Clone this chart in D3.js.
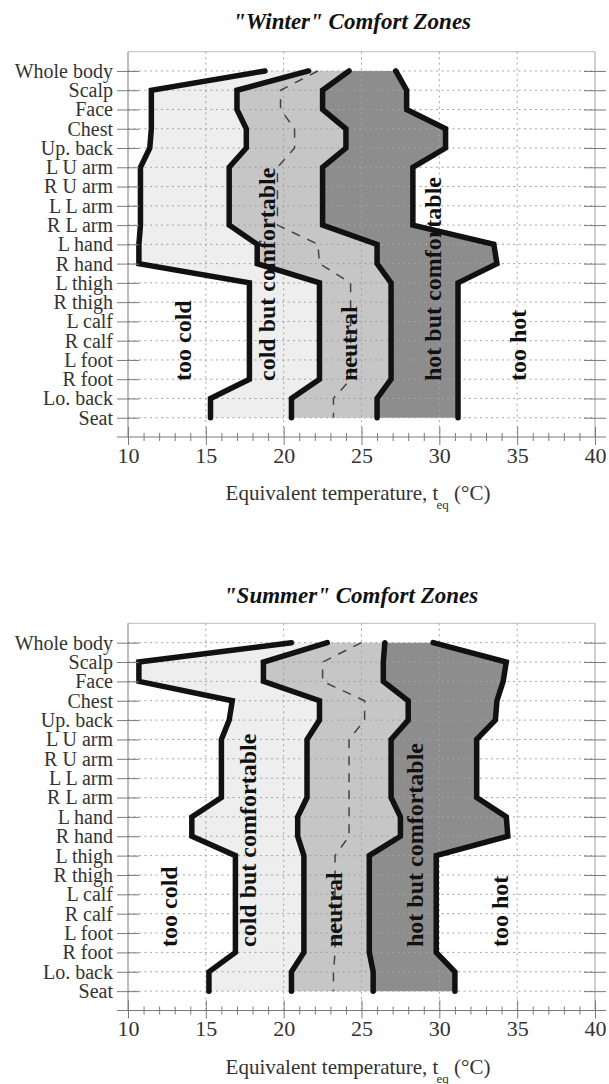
<!DOCTYPE html>
<html>
<head>
<meta charset="utf-8">
<script src="https://cdn.jsdelivr.net/npm/d3@7"></script>
<style>
  html, body { margin: 0; padding: 0; background: #fff; }
  svg { display: block; }
  text { font-family: "Liberation Serif", "Times New Roman", serif; }
</style>
</head>
<body>
<svg id="chart" width="609" height="1084"></svg>
<script>
// Body segments, top to bottom
const bodyParts = ["Whole body", "Scalp", "Face", "Chest", "Up. back", "L U arm", "R U arm",
  "L L arm", "R L arm", "L hand", "R hand", "L thigh", "R thigh", "L calf", "R calf",
  "L foot", "R foot", "Lo. back", "Seat"];

// Equivalent temperature axis (°C)
const tempDomain = [10, 40];
const tempTicks = [10, 15, 20, 25, 30, 35, 40];

const zoneNames = ["too cold", "cold but comfortable", "neutral", "hot but comfortable", "too hot"];

// Winter zone limits per body segment (°C)
const winterColdLimit = [18.8, 11.5, 11.5, 11.5, 11.4, 10.8, 10.8, 10.8, 10.8, 10.7, 10.7, 17.8, 17.8, 17.8, 17.8, 17.8, 17.8, 15.3, 15.3];
const winterCoolLimit = [21.6, 17.0, 17.0, 17.6, 17.6, 16.5, 16.5, 16.5, 16.5, 18.3, 18.3, 22.3, 22.3, 22.3, 22.3, 22.3, 22.3, 20.5, 20.5];
const winterWarmLimit = [24.2, 22.5, 22.5, 24.0, 24.0, 22.5, 22.5, 22.5, 22.5, 26.0, 26.0, 26.9, 26.9, 26.9, 26.9, 26.9, 26.9, 26.0, 26.0];
const winterHotLimit  = [27.2, 27.9, 27.9, 30.4, 30.4, 28.3, 28.3, 28.3, 28.3, 33.5, 33.7, 31.2, 31.2, 31.2, 31.2, 31.2, 31.2, 31.2, 31.2];
const winterNeutral   = [22.2, 19.8, 19.8, 20.7, 20.7, 19.6, 19.6, 19.6, 19.6, 22.2, 22.3, 24.3, 24.3, 24.3, 24.3, 24.3, 24.3, 23.2, 23.2];

// Summer zone limits per body segment (°C)
const summerColdLimit = [20.5, 10.7, 10.7, 16.7, 16.5, 16.0, 16.0, 16.0, 16.0, 14.1, 14.1, 16.9, 16.9, 16.9, 16.9, 16.9, 16.9, 15.2, 15.2];
const summerCoolLimit = [22.8, 18.7, 18.7, 22.3, 22.3, 21.5, 21.5, 21.5, 21.5, 20.9, 20.9, 21.3, 21.3, 21.3, 21.3, 21.3, 21.3, 20.5, 20.5];
const summerWarmLimit = [26.5, 26.4, 26.4, 28.0, 28.0, 26.9, 26.9, 26.9, 26.9, 27.5, 27.5, 25.5, 25.5, 25.5, 25.5, 25.5, 25.5, 25.75, 25.75];
const summerHotLimit  = [29.6, 34.3, 34.1, 33.7, 33.6, 32.4, 32.4, 32.4, 32.4, 34.3, 34.4, 29.8, 29.8, 29.8, 29.8, 29.8, 29.8, 31.0, 31.0];
const summerNeutral   = [25.0, 22.5, 22.5, 25.2, 25.2, 24.2, 24.2, 24.2, 24.2, 24.2, 24.2, 23.3, 23.3, 23.3, 23.3, 23.3, 23.3, 23.2, 23.2];

// Panel layout
const panels = [
  {
    title: "\"Winter\" Comfort Zones", titleX: 352, titleY: 29,
    top: 51.7, bottom: 437, labelBottom: 381,
    labelTemps: [13.5, 18.9, 24.2, 29.6, 35.05],
    limits: [winterColdLimit, winterCoolLimit, winterWarmLimit, winterHotLimit],
    neutral: winterNeutral
  },
  {
    title: "\"Summer\" Comfort Zones", titleX: 351, titleY: 603,
    top: 623.3, bottom: 1010.5, labelBottom: 947,
    labelTemps: [12.6, 17.7, 23.2, 28.4, 33.9],
    limits: [summerColdLimit, summerCoolLimit, summerWarmLimit, summerHotLimit],
    neutral: summerNeutral
  }
];

const left = 128, right = 595;
const zoneFills = ["#eeeeee", "#c6c6c6", "#8d8d8d"];
const axisColor = "#7a7a7a";
const textColor = "#333";

const svg = d3.select("#chart");
const x = d3.scaleLinear().domain(tempDomain).range([left, right]);

panels.forEach(p => {
  const g = svg.append("g");
  const y = d3.scalePoint().domain(bodyParts).range([p.top, p.bottom]).padding(1);

  // frame: top and right borders
  g.append("line").attr("x1", left).attr("x2", right).attr("y1", p.top).attr("y2", p.top)
    .attr("stroke", "#bdbdbd").attr("stroke-width", 1);
  g.append("line").attr("x1", right).attr("x2", right).attr("y1", p.top).attr("y2", p.bottom)
    .attr("stroke", "#a0a0a0").attr("stroke-width", 1);

  // shaded comfort zones between consecutive limits
  for (let k = 0; k < 3; k++) {
    const lo = p.limits[k], hi = p.limits[k + 1];
    const area = d3.area()
      .y((d, i) => y(bodyParts[i]))
      .x0((d, i) => x(lo[i]))
      .x1((d, i) => x(hi[i]));
    g.append("path").datum(bodyParts).attr("d", area).attr("fill", zoneFills[k]);
  }

  // dotted grid
  const grid = g.append("g").attr("stroke", "#a3a3a3").attr("stroke-width", 1)
    .attr("stroke-dasharray", "2,3.5");
  grid.selectAll("line.h").data(bodyParts).join("line").attr("class", "h")
    .attr("x1", left).attr("x2", right)
    .attr("y1", d => y(d)).attr("y2", d => y(d));
  grid.selectAll("line.v").data(tempTicks.slice(1, -1)).join("line").attr("class", "v")
    .attr("x1", d => x(d)).attr("x2", d => x(d))
    .attr("y1", p.top).attr("y2", p.bottom);

  // neutral sensation line
  const line = d3.line().x(d => x(d)).y((d, i) => y(bodyParts[i]));
  g.append("path").datum(p.neutral).attr("d", line)
    .attr("fill", "none").attr("stroke", "#444").attr("stroke-width", 1.5)
    .attr("stroke-dasharray", "9,8");

  // zone limit lines
  p.limits.forEach(lim => {
    g.append("path").datum(lim).attr("d", line)
      .attr("fill", "none").attr("stroke", "#111").attr("stroke-width", 5.5)
      .attr("stroke-linejoin", "miter").attr("stroke-miterlimit", 3)
      .attr("stroke-linecap", "round");
  });

  // zone names, vertical, reading upward from a common bottom line
  zoneNames.forEach((name, i) => {
    g.append("text")
      .attr("transform", `translate(${x(p.labelTemps[i])},${p.labelBottom}) rotate(-90)`)
      .attr("dy", "0.34em").attr("text-anchor", "start")
      .attr("font-size", 24).attr("font-weight", "bold").attr("fill", "#111")
      .text(name);
  });

  // left axis with body segment names
  const yAxis = g.append("g").attr("transform", `translate(${left},0)`)
    .call(d3.axisLeft(y).tickSize(11).tickSizeOuter(0).tickPadding(4));
  yAxis.select(".domain").attr("stroke", axisColor).attr("d", `M0,${p.top}V${p.bottom}`);
  yAxis.selectAll(".tick line").attr("x1", 11).attr("stroke", axisColor);
  yAxis.selectAll(".tick text").attr("font-size", 20).attr("fill", textColor)
    .attr("font-family", "'Liberation Serif', serif");

  // right ticks
  const yAxisR = g.append("g").attr("transform", `translate(${right},0)`)
    .call(d3.axisRight(y).tickSize(11).tickSizeOuter(0).tickFormat(""));
  yAxisR.select(".domain").remove();
  yAxisR.selectAll(".tick line").attr("x1", -11).attr("stroke", axisColor);

  // bottom axis
  const xAxis = g.append("g").attr("transform", `translate(0,${p.bottom})`)
    .call(d3.axisBottom(x).tickValues(tempTicks).tickSize(8).tickSizeOuter(0).tickPadding(4));
  xAxis.select(".domain").remove();
  xAxis.selectAll(".tick line").attr("y1", -10).attr("stroke", axisColor);
  xAxis.selectAll(".tick text").attr("font-size", 22).attr("fill", textColor)
    .attr("font-family", "'Liberation Serif', serif").attr("dy", "0.62em");
  const minor = d3.range(tempDomain[0], tempDomain[1] + 1).filter(v => v % 5 !== 0);
  const xMinor = g.append("g").attr("transform", `translate(0,${p.bottom})`)
    .call(d3.axisBottom(x).tickValues(minor).tickSize(4).tickSizeOuter(0).tickFormat(""));
  xMinor.select(".domain").remove();
  xMinor.selectAll(".tick line").attr("y1", -4).attr("stroke", axisColor);
  g.append("line").attr("x1", left - 11).attr("x2", right + 11)
    .attr("y1", p.bottom).attr("y2", p.bottom).attr("stroke", axisColor);

  // axis title
  const t = g.append("text").attr("x", 358).attr("y", p.bottom + 63)
    .attr("text-anchor", "middle").attr("font-size", 21).attr("fill", textColor);
  t.append("tspan").text("Equivalent temperature, t");
  t.append("tspan").attr("font-size", 13).attr("dx", -2).attr("dy", 9).text("eq");
  t.append("tspan").attr("dy", -9).text(" (°C)");

  // panel title
  g.append("text").attr("x", p.titleX).attr("y", p.titleY)
    .attr("text-anchor", "middle").attr("font-size", 23)
    .attr("font-weight", "bold").attr("font-style", "italic").attr("fill", "#111")
    .text(p.title);
});
</script>
</body>
</html>
